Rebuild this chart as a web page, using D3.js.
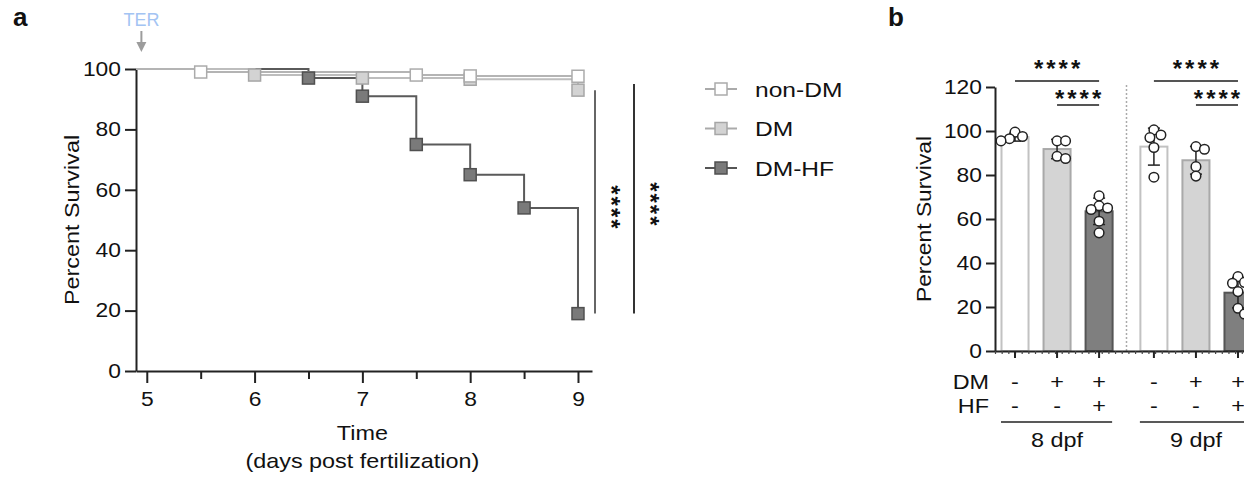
<!DOCTYPE html>
<html>
<head>
<meta charset="utf-8">
<script src="https://cdn.jsdelivr.net/npm/d3@7"></script>
<style>
  body { margin: 0; background: #fff; }
  svg { display: block; font-family: "Liberation Sans", Arial, sans-serif; }
</style>
</head>
<body>
<svg id="fig" width="1244" height="479"></svg>
<script>
// ---- panel a: Kaplan-Meier survival, time in days post fertilization
const seriesNames = ["non-DM", "DM", "DM-HF"];
const nonDmTime = [5.5, 7.5, 8, 9];
const nonDmSurv = [99, 98, 97.7, 97.6];
const dmTime = [6, 7, 8, 9];
const dmSurv = [98, 97, 96.6, 93];
const hfTime = [6.5, 7, 7.5, 8, 8.5, 9];
const hfSurv = [97, 91, 75, 65, 54, 19];
const timeTicks = [5, 6, 7, 8, 9];
const timeMinor = [5.5, 6.5, 7.5, 8.5];
const survTicks = [0, 20, 40, 60, 80, 100];
const terTime = 4.95;
// log-rank brackets: [low, high] percent survival
const logRank = [[19, 93], [19, 95]];

// ---- panel b: percent survival per clutch
const dayGroups = ["8 dpf", "9 dpf"];
const dmRow = ["-", "+", "+"];
const hfRow = ["-", "-", "+"];
const mean8 = [97.2, 91.8, 63.5];
const sd8 = [1.8, 4.4, 6.0];
const mean9 = [92.9, 86.7, 26.5];
const sd9 = [8.4, 6.3, 6.9];
const dots8 = [[96.5, 99.5, 97.5, 95.5], [95.5, 95.5, 87.5, 88.5], [70.5, 66, 65, 64.3, 59, 53.7]];
const dots9 = [[98.2, 100.5, 97, 92.5, 79], [91.7, 92.9, 83.8, 79.5], [30.8, 31.2, 33.8, 27, 19.4, 16.8]];
const pctTicks = [0, 20, 40, 60, 80, 100, 120];
const barCompare = [[0, 2, "****"], [1, 2, "****"]];

const svg = d3.select("#fig");
const SX = 1.17; // source font is wider than Liberation Sans

const lineColor = { "non-DM": "#b4b4b4", "DM": "#bdbdbd", "DM-HF": "#5a5a5a" };
const boxFill = { "non-DM": "#ffffff", "DM": "#d3d3d3", "DM-HF": "#7a7a7a" };
const boxStroke = { "non-DM": "#ababab", "DM": "#a6a6a6", "DM-HF": "#505050" };

function label(g, x, y, txt, o = {}) {
  const t = g.append("text")
    .attr("transform", `translate(${x},${y}) rotate(${o.rotate || 0}) scale(${o.sx ?? SX},1)`)
    .attr("text-anchor", o.anchor || "middle")
    .attr("font-size", o.size || 19.5)
    .attr("fill", o.fill || "#111")
    .text(txt);
  if (o.weight) t.attr("font-weight", o.weight);
  if (o.spacing) t.attr("letter-spacing", o.spacing);
  return t;
}

function styleAxis(g, size) {
  g.attr("font-family", null);
  g.select(".domain").attr("stroke", "#222").attr("stroke-width", 2);
  g.selectAll(".tick line").attr("stroke", "#222").attr("stroke-width", 2);
  g.selectAll(".tick text").attr("font-size", size).attr("fill", "#111");
}

// panel letters
label(svg, 13, 26, "a", { anchor: "start", size: 26, weight: "bold", sx: 1 });
label(svg, 888, 26, "b", { anchor: "start", size: 26, weight: "bold", sx: 1 });

// ================= panel a =================
const xA = d3.scaleLinear().domain([4.9, 9.13]).range([136, 592]);
const yA = d3.scaleLinear().domain([0, 100]).range([371, 69]);
const gA = svg.append("g");

const yAxA = gA.append("g")
  .attr("transform", `translate(${xA.range()[0]},0)`)
  .call(d3.axisLeft(yA).tickValues(survTicks).tickSize(11).tickPadding(4).tickSizeOuter(0));
styleAxis(yAxA, 19.5);
yAxA.selectAll(".tick text").attr("x", null).attr("transform", `translate(-15,0) scale(${SX},1)`);

const xAxA = gA.append("g")
  .attr("transform", `translate(0,${yA(0)})`)
  .call(d3.axisBottom(xA).tickValues(timeTicks).tickFormat(d3.format("d")).tickSize(12).tickSizeOuter(0));
styleAxis(xAxA, 19.5);
xAxA.selectAll(".tick text").attr("y", null).attr("transform", `translate(0,21) scale(${SX},1)`);

const xMinA = gA.append("g")
  .attr("transform", `translate(0,${yA(0)})`)
  .call(d3.axisBottom(xA).tickValues(timeMinor).tickSize(8).tickFormat(""));
xMinA.select(".domain").remove();
xMinA.selectAll(".tick line").attr("stroke", "#222").attr("stroke-width", 2);

label(gA, 79, (yA(0) + yA(100)) / 2, "Percent Survival", { rotate: -90, size: 20 });
label(gA, xA(7), 440, "Time", { size: 20 });
label(gA, xA(7), 468, "(days post fertilization)", { size: 20 });

// TER arrow
const terX = xA(terTime);
label(gA, terX, 26, "TER", { size: 18, fill: "#a3c4f3", sx: 1 });
gA.append("line").attr("x1", terX).attr("x2", terX).attr("y1", 31).attr("y2", 44)
  .attr("stroke", "#9c9c9c").attr("stroke-width", 2);
gA.append("path").attr("d", `M${terX - 5},${42}L${terX + 5},${42}L${terX},${52}Z`).attr("fill", "#9c9c9c");

// survival curves
const series = [
  { name: "non-DM", time: nonDmTime, surv: nonDmSurv },
  { name: "DM", time: dmTime, surv: dmSurv },
  { name: "DM-HF", time: hfTime, surv: hfSurv }
];
const step = d3.line().x(d => xA(d[0])).y(d => yA(d[1])).curve(d3.curveStepAfter);
const drawOrder = [series[2], series[1], series[0]];

drawOrder.forEach(s => {
  const pts = [[xA.domain()[0], 100]].concat(s.time.map((t, i) => [t, s.surv[i]]));
  gA.append("path").attr("d", step(pts)).attr("fill", "none")
    .attr("stroke", lineColor[s.name]).attr("stroke-width", 2);
});
drawOrder.forEach(s => {
  gA.selectAll(null).data(s.time.map((t, i) => [t, s.surv[i]])).enter().append("rect")
    .attr("x", d => xA(d[0]) - 6).attr("y", d => yA(d[1]) - 6)
    .attr("width", 12).attr("height", 12)
    .attr("fill", boxFill[s.name]).attr("stroke", boxStroke[s.name]).attr("stroke-width", 1.5);
});

// log-rank brackets
logRank.forEach(([lo, hi], i) => {
  const x = xA.range()[1] + 3 + i * 39;
  gA.append("line").attr("x1", x).attr("x2", x).attr("y1", yA(hi)).attr("y2", yA(lo))
    .attr("stroke", i ? "#333" : "#666").attr("stroke-width", 2);
  label(gA, x + 8, (yA(hi) + yA(lo)) / 2 + 6, "****",
    { rotate: 90, size: 24, weight: "bold", sx: 1, spacing: 2 });
});

// legend
const leg = svg.append("g");
seriesNames.forEach((name, i) => {
  const y = 89 + i * 39.5;
  leg.append("line").attr("x1", 705).attr("x2", 737).attr("y1", y).attr("y2", y)
    .attr("stroke", name === "DM-HF" ? "#555" : "#aaa").attr("stroke-width", 2);
  leg.append("rect").attr("x", 715).attr("y", y - 6).attr("width", 12).attr("height", 12)
    .attr("fill", boxFill[name]).attr("stroke", boxStroke[name]).attr("stroke-width", 1.5);
  label(leg, 755, y + 7.5, name, { anchor: "start", size: 21 });
});

// ================= panel b =================
const gB = svg.append("g");
const yB = d3.scaleLinear().domain([0, 120]).range([351, 87]);
const outer = d3.scaleBand().domain(dayGroups).range([994, 1259]).paddingInner(0.092);
const inner = d3.scaleBand().domain(d3.range(3)).range([0, outer.bandwidth()])
  .paddingInner(0.357).paddingOuter(0.1785);
const barX = (g, i) => outer(g) + inner(i);
const barC = (g, i) => barX(g, i) + inner.bandwidth() / 2;

const barFill = ["#ffffff", "#d4d4d4", "#7f7f7f"];
const barStroke = ["#c2c2c2", "#a9a9a9", "#555555"];

// dotted separator between days
const sepX = outer(dayGroups[1]) - (outer.step() - outer.bandwidth()) / 2;
gB.append("line").attr("x1", sepX).attr("x2", sepX).attr("y1", yB(120) - 2).attr("y2", yB(0))
  .attr("stroke", "#aaa").attr("stroke-width", 1.5).attr("stroke-dasharray", "2,2");

const bars = [];
dayGroups.forEach((g, gi) => {
  const means = gi ? mean9 : mean8, sds = gi ? sd9 : sd8, dts = gi ? dots9 : dots8;
  means.forEach((m, i) => bars.push({ g, i, mean: m, sd: sds[i], dots: dts[i] }));
});

gB.selectAll(".bar").data(bars).enter().append("rect")
  .attr("class", "bar")
  .attr("x", d => barX(d.g, d.i)).attr("width", inner.bandwidth())
  .attr("y", d => yB(d.mean)).attr("height", d => yB(0) - yB(d.mean))
  .attr("fill", d => barFill[d.i]).attr("stroke", d => barStroke[d.i]).attr("stroke-width", 2);

// error bars (mean +/- SD)
bars.forEach(d => {
  const cx = barC(d.g, d.i), y1 = yB(d.mean + d.sd), y2 = yB(d.mean - d.sd);
  const eb = gB.append("g").attr("stroke", "#222").attr("stroke-width", 1.5);
  eb.append("line").attr("x1", cx).attr("x2", cx).attr("y1", y1).attr("y2", y2);
  eb.append("line").attr("x1", cx - 6).attr("x2", cx + 6).attr("y1", y1).attr("y2", y1);
  eb.append("line").attr("x1", cx - 6).attr("x2", cx + 6).attr("y1", y2).attr("y2", y2);
});

// individual points, simple beeswarm so they do not pile up
function swarm(values, cx, minDist) {
  const placed = [];
  [...values].sort((a, b) => b - a).forEach(v => {
    const y = yB(v);
    for (let k = 0; k < 400; k++) {
      const dx = (k % 2 ? 1 : -1) * Math.ceil(k / 2) * 0.5;
      const x = cx + dx;
      if (placed.every(p => (p.x - x) ** 2 + (p.y - y) ** 2 >= minDist * minDist)) {
        placed.push({ x, y });
        break;
      }
    }
  });
  return placed;
}
bars.forEach(d => {
  gB.selectAll(null).data(swarm(d.dots, barC(d.g, d.i), 8.5)).enter().append("circle")
    .attr("cx", p => p.x).attr("cy", p => p.y).attr("r", 4.8)
    .attr("fill", "#fff").attr("stroke", "#222").attr("stroke-width", 1.5);
});

// axes
const yAxB = gB.append("g").attr("transform", "translate(995,0)")
  .call(d3.axisLeft(yB).tickValues(pctTicks).tickSize(9).tickPadding(4).tickSizeOuter(0));
styleAxis(yAxB, 19.5);
yAxB.selectAll(".tick text").attr("x", null).attr("transform", `translate(-13,0) scale(${SX},1)`);

const minorX = d3.scaleLinear().domain([0, 38]).range([995, 995 + 38 * 6.67]);
const xAxB = gB.append("g").attr("transform", `translate(0,${yB(0)})`)
  .call(d3.axisBottom(minorX).tickValues(d3.range(39)).tickSize(3).tickSizeOuter(0).tickFormat(""));
xAxB.select(".domain").attr("stroke", "#222").attr("stroke-width", 2);
xAxB.selectAll(".tick line").attr("stroke", "#444").attr("stroke-width", 1.2);
bars.forEach(d => {
  const cx = barC(d.g, d.i);
  gB.append("line").attr("x1", cx).attr("x2", cx).attr("y1", yB(0)).attr("y2", yB(0) + 7)
    .attr("stroke", "#222").attr("stroke-width", 2);
});

label(gB, 931, (yB(0) + yB(120)) / 2, "Percent Survival", { rotate: -90, size: 19.5 });

// treatment table under the bars
label(gB, 989, 389, "DM", { anchor: "end", size: 20 });
label(gB, 989, 413, "HF", { anchor: "end", size: 20 });
bars.forEach(d => {
  const cx = barC(d.g, d.i);
  label(gB, cx, 389, dmRow[d.i], { size: 20 });
  label(gB, cx, 413, hfRow[d.i], { size: 20 });
});
dayGroups.forEach(g => {
  gB.append("line").attr("x1", outer(g) + 7).attr("x2", outer(g) + outer.bandwidth() - 8)
    .attr("y1", 422).attr("y2", 422).attr("stroke", "#222").attr("stroke-width", 1.5);
  label(gB, outer(g) + outer.bandwidth() / 2, 447, g, { size: 20 });
});

// multiple comparison brackets
dayGroups.forEach(g => {
  barCompare.forEach(([a, b, txt], r) => {
    const y = yB(120) - 6 + r * 24;
    const x1 = barC(g, a), x2 = barC(g, b);
    gB.append("line").attr("x1", x1).attr("x2", x2).attr("y1", y).attr("y2", y)
      .attr("stroke", "#555").attr("stroke-width", 2);
    label(gB, (x1 + x2) / 2 + 1.5, y + (r ? 2 : -4), txt,
      { size: 24, weight: "bold", sx: 1, spacing: 3 });
  });
});
</script>
</body>
</html>
